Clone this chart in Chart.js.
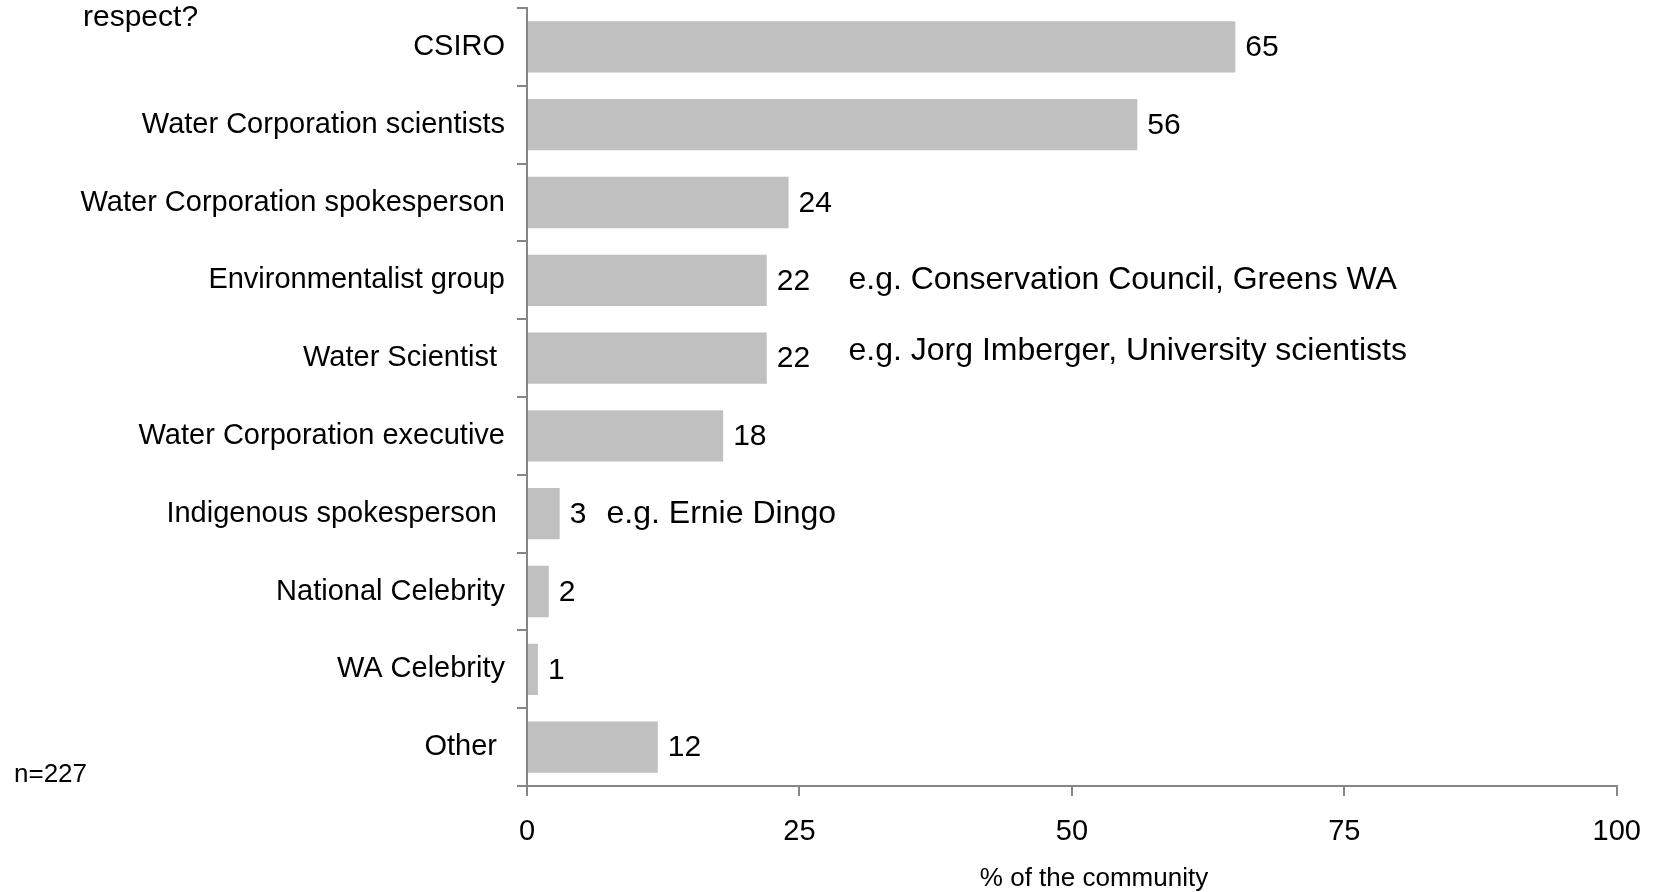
<!DOCTYPE html>
<html>
<head>
<meta charset="utf-8">
<script src="https://cdn.jsdelivr.net/npm/chart.js@4/dist/chart.umd.min.js"></script>
<style>
  body { margin: 0; background: #fff; }
  #chart { display: block; }
</style>
</head>
<body>
<canvas id="chart" width="1660" height="892"></canvas>
<script>
// who would you trust / respect? (% of the community)
const categories = [
  'CSIRO',
  'Water Corporation scientists',
  'Water Corporation spokesperson',
  'Environmentalist group',
  'Water Scientist ',
  'Water Corporation executive',
  'Indigenous spokesperson ',
  'National Celebrity',
  'WA Celebrity',
  'Other '
];
const percentValues = [65, 56, 24, 22, 22, 18, 3, 2, 1, 12];
const xTicks = [0, 25, 50, 75, 100];

const noteTexts = [
  'e.g. Conservation Council, Greens WA',
  'e.g. Jorg Imberger, University scientists',
  'e.g. Ernie Dingo'
];
const noteRows = [3, 4, 6];

const FONT = '"Liberation Sans", Arial, sans-serif';
const AXIS_GREY = '#868686';

// value labels next to each bar + free text notes
const textPlugin = {
  id: 'textPlugin',
  afterDatasetsDraw(chart) {
    const ctx = chart.ctx;
    const meta = chart.getDatasetMeta(0);
    const x = chart.scales.x;
    ctx.save();
    ctx.fillStyle = '#000';
    ctx.textBaseline = 'middle';
    ctx.textAlign = 'left';
    ctx.font = '30px ' + FONT;
    meta.data.forEach((bar, i) => {
      ctx.fillText(String(percentValues[i]), bar.x + 10, bar.y + 1);
    });

    // notes
    const noteX = [x.getPixelForValue(29.5), x.getPixelForValue(29.5), x.getPixelForValue(7.3)];
    const noteDy = [0, -7, 0];
    ctx.font = '32px ' + FONT;
    noteTexts.forEach((t, i) => {
      const bar = meta.data[noteRows[i]];
      ctx.fillText(t, noteX[i], bar.y + noteDy[i]);
    });

    // leftover title text, sample size, axis title
    ctx.font = '30px ' + FONT;
    ctx.fillText('respect?', 83, 18);
    ctx.font = '26px ' + FONT;
    ctx.fillText('n=227', 14, 775);
    ctx.textAlign = 'center';
    ctx.fillText('% of the community', 1094, 879);
    ctx.restore();
  }
};

const ctx = document.getElementById('chart').getContext('2d');
new Chart(ctx, {
  type: 'bar',
  data: {
    labels: categories,
    datasets: [{
      data: percentValues,
      backgroundColor: '#c0c0c0',
      borderWidth: 0,
      barPercentage: 0.66,
      categoryPercentage: 1
    }]
  },
  options: {
    indexAxis: 'y',
    responsive: false,
    animation: false,
    layout: { padding: { top: 8, right: 42, bottom: 0, left: 0 } },
    plugins: {
      legend: { display: false },
      tooltip: { enabled: false }
    },
    scales: {
      x: {
        min: 0,
        max: 100,
        afterFit: (scale) => { scale.height = 106; },
        afterBuildTicks: (scale) => { scale.ticks = xTicks.map(v => ({ value: v })); },
        border: { color: AXIS_GREY, width: 2 },
        grid: { drawOnChartArea: false, drawTicks: true, tickLength: 10, color: AXIS_GREY, lineWidth: 2 },
        ticks: { color: '#000', font: { family: FONT, size: 29 }, padding: 19, maxRotation: 0 }
      },
      y: {
        afterFit: (scale) => {
          scale.width = 527;
          scale.paddingTop = 0;
          scale.paddingBottom = 0;
        },
        border: { color: AXIS_GREY, width: 2 },
        grid: { drawOnChartArea: false, drawTicks: true, tickLength: 10, color: AXIS_GREY, lineWidth: 2, offset: true },
        ticks: { color: '#000', font: { family: FONT, size: 29 }, padding: 12, autoSkip: false }
      }
    }
  },
  plugins: [textPlugin]
});
</script>
</body>
</html>
